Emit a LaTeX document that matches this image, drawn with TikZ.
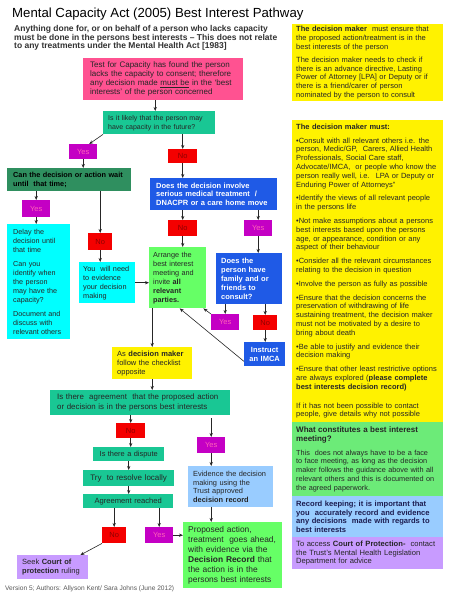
\documentclass[tikz,border=0pt]{standalone}
\usepackage{fontspec}
\setmainfont{Liberation Sans}
\usetikzlibrary{arrows.meta}

\definecolor{capink}{HTML}{FF5291}
\definecolor{tealfill}{HTML}{19C794}
\definecolor{waitgreen}{HTML}{2F8F5F}
\definecolor{yesfill}{HTML}{C400C4}
\definecolor{yestext}{HTML}{FF62B8}
\definecolor{nofill}{HTML}{F40000}
\definecolor{notext}{HTML}{8E0000}
\definecolor{askblue}{HTML}{1F5AE6}
\definecolor{delaycyan}{HTML}{00FFFF}
\definecolor{meetgreen}{HTML}{66FF66}
\definecolor{notegreen}{HTML}{6CEB78}
\definecolor{recblue}{HTML}{99CCFF}
\definecolor{courtlilac}{HTML}{C89BFF}
\definecolor{navytext}{HTML}{1C1C50}

\newcommand*{\boxfont}[2]{\fontsize{#1}{#2}\selectfont}

\begin{document}
\begin{tikzpicture}[x=1pt,y=-1pt,>={Stealth[length=4pt,width=3.2pt]},
    box/.style={rectangle,anchor=north west,inner xsep=5pt,inner ysep=1pt,align=left,text=black!85},
    yesbox/.style={rectangle,anchor=north west,inner sep=0pt,minimum width=28pt,minimum height=16pt,
      fill=yesfill,text=yestext,font=\boxfont{7.5}{8}},
    nobox/.style={yesbox,fill=nofill,text=notext},
    link/.style={->,line width=0.6pt,black!85}]

  \path[use as bounding box,fill=white] (0,0) rectangle (450,600);

  % heading
  \node[box,inner sep=0pt,text=black,font=\boxfont{13.2}{15}] (title) at (12,8) {Mental Capacity Act (2005) Best Interest Pathway};
  \node[box,inner sep=0pt,text=black!80,font=\boxfont{8.5}{8.7}\bfseries] (intro) at (14,25)
    {Anything done for, or on behalf of a person who lacks capacity\\
     must be done in the persons best interests – This does not relate\\
     to any treatments under the Mental Health Act [1983]};

  % pathway
  \node[box,fill=capink,minimum width=160pt,minimum height=42pt,text width=146pt,inner xsep=7pt,font=\boxfont{8}{9}] (capacity) at (83,58)
    {Test for Capacity has found the person\\ lacks the capacity to consent; therefore\\
     any decision made \underline{must be} in the ‘best\\ interests’ of the person concerned};
  \node[box,fill=tealfill,minimum width=112pt,minimum height=23pt,text width=102pt,font=\boxfont{7}{9}] (future) at (103,111)
    {Is it likely that the person may\\ have capacity in the future?};
  \node[yesbox,minimum height=15pt] (yes1) at (69,144) {Yes};
  \node[nobox,minimum width=29pt,minimum height=14pt] (no1) at (168,149) {No};
  \node[box,fill=waitgreen,minimum width=124pt,minimum height=23pt,text width=112pt,inner xsep=6pt,text=black,font=\boxfont{7.3}{9}\bfseries] (wait) at (7,168)
    {Can the decision or action wait\\ until~ that time;};
  \node[box,fill=askblue,minimum width=127pt,minimum height=32pt,text width=115pt,inner xsep=6pt,text=white,font=\boxfont{7.5}{8.5}\bfseries] (serious) at (150,178)
    {Does the decision involve\\ serious medical treatment~ /\\ DNACPR or a care home move};
  \node[yesbox,minimum height=17pt] (yes2) at (22,200) {Yes};
  \node[box,fill=delaycyan,minimum width=63pt,minimum height=115pt,text width=51pt,inner xsep=6pt,font=\boxfont{7.2}{9}] (delay) at (7,224)
    {Delay the\\ decision until\\ that time\\[5pt] Can you\\ identify when\\ the person\\ may have the\\ capacity?\\[5pt]
     Document and\\ discuss with\\ relevant others};
  \node[nobox,minimum width=24pt,minimum height=17pt] (no2) at (88,233) {No};
  \node[box,fill=delaycyan,minimum width=56pt,minimum height=41pt,text width=48pt,inner xsep=4pt,font=\boxfont{7.3}{9}] (needevidence) at (79,262)
    {You~ will need\\ to evidence\\ your decision\\ making};
  \node[nobox,minimum width=29pt] (no3) at (168,220) {No};
  \node[yesbox] (yes3) at (244,220) {Yes};
  \node[box,fill=meetgreen,minimum width=57pt,minimum height=61pt,text width=49pt,inner xsep=4pt,font=\boxfont{7.3}{9}] (meeting) at (149,247)
    {Arrange the\\ best interest\\ meeting and\\ invite \textbf{all}\\ \textbf{relevant}\\ \textbf{parties.}};
  \node[box,fill=askblue,minimum width=66pt,minimum height=51pt,text width=56pt,text=white,font=\boxfont{7.5}{9}\bfseries] (family) at (216,253)
    {Does the\\ person have\\ family and or\\ friends to\\ consult?};
  \node[yesbox] (yes4) at (211,314) {Yes};
  \node[nobox,minimum width=24pt,minimum height=15pt] (no4) at (253,315) {No};
  \node[box,fill=askblue,minimum width=41pt,minimum height=24pt,text width=33pt,inner xsep=4pt,align=center,text=white,font=\boxfont{7.5}{9}\bfseries] (imca) at (244,342)
    {Instruct\\ an IMCA};
  \node[box,fill=yellow,minimum width=80pt,minimum height=32pt,text width=70pt,font=\boxfont{7.5}{9}] (checklist) at (112,347)
    {As \textbf{decision maker}\\ follow the checklist\\ opposite};
  \node[box,fill=tealfill,minimum width=180pt,minimum height=25pt,text width=166pt,inner xsep=7pt,font=\boxfont{7.9}{10}] (agree) at (50,390)
    {Is there~ agreement~ that the proposed action\\ or decision is in the persons best interests};
  \node[nobox,minimum width=29pt,minimum height=15pt] (no5) at (116,423) {No};
  \node[yesbox] (yes5) at (197,437) {Yes};
  \node[box,fill=tealfill,minimum width=71pt,minimum height=14pt,text width=63pt,inner xsep=4pt,align=center,font=\boxfont{7.4}{9}] (dispute) at (93,447)
    {Is there a dispute};
  \node[box,fill=tealfill,minimum width=91pt,minimum height=16pt,text width=83pt,inner xsep=4pt,align=center,font=\boxfont{8}{9}] (resolve) at (83,470)
    {Try~ to resolve locally};
  \node[box,fill=tealfill,minimum width=90pt,minimum height=14pt,text width=82pt,inner xsep=4pt,align=center,font=\boxfont{7.6}{9}] (reached) at (83,494)
    {Agreement reached};
  \node[box,fill=recblue,minimum width=85pt,minimum height=41pt,text width=75pt,font=\boxfont{7.4}{8.7}] (record) at (188,466)
    {Evidence the decision\\ making using the\\ Trust approved\\ \textbf{decision record}};
  \node[nobox,minimum width=24pt] (no6) at (102,527) {No};
  \node[yesbox] (yes6) at (145,527) {Yes};
  \node[box,fill=meetgreen,minimum width=99pt,minimum height=66pt,text width=89pt,font=\boxfont{8.4}{10}] (ahead) at (183,522)
    {Proposed action,\\ treatment~ goes ahead,\\ with evidence via the\\ \textbf{Decision Record} that\\ the action is in the\\ persons best interests};
  \node[box,fill=courtlilac,minimum width=71pt,minimum height=24pt,text width=61pt,font=\boxfont{7.5}{8.5}] (court) at (17,555)
    {Seek \textbf{Court of}\\ \textbf{protection} ruling};
  \node[box,inner sep=0pt,text=black!65,font=\boxfont{6.6}{8}] (version) at (5,586)
    {Version 5; Authors: Allyson Kent/ Sara Johns (June 2012)};

  % checklist column
  \node[box,fill=yellow,minimum width=151pt,minimum height=77pt,text width=143pt,inner xsep=4pt,font=\boxfont{7.5}{8.8}] (ensure) at (292,24)
    {\textbf{The decision maker}~ must ensure that\\ the proposed action/treatment is in the\\ best interests of the person\\[4pt]
     The decision maker needs to check if\\ there is an advance directive, Lasting\\ Power of Attorney [LPA] or Deputy or if\\
     there is a friend/carer of person\\ nominated by the person to consult};
  \node[box,fill=yellow,minimum width=151pt,minimum height=302pt,text width=143pt,inner xsep=4pt,font=\boxfont{7.5}{8.8}] (must) at (292,120)
    {\textbf{The decision maker must:}\\[5pt]
     •Consult with all relevant others i.e. the\\ person, Medic/GP,~ Carers, Allied Health\\ Professionals, Social Care staff,\\
     Advocate/IMCA,~ or people who know the\\ person really well, i.e.~ LPA or Deputy or\\ Enduring Power of Attorneys”\\[5pt]
     •Identify the views of all relevant people\\ in the persons life\\[5pt]
     •Not make assumptions about a persons\\ best interests based upon the persons\\ age, or appearance, condition or any\\ aspect of their behaviour\\[5pt]
     •Consider all the relevant circumstances\\ relating to the decision in question\\[5pt]
     •Involve the person as fully as possible\\[5pt]
     •Ensure that the decision concerns the\\ preservation of withdrawing of life\\ sustaining treatment, the decision maker\\
     must not be motivated by a desire to\\ bring about death\\[5pt]
     •Be able to justify and evidence their\\ decision making\\[5pt]
     •Ensure that other least restrictive options\\ are always explored (\textbf{please complete}\\ \textbf{best interests decision record)}\\[10pt]
     If it has not been possible to contact\\ people, give details why not possible};
  \node[box,fill=notegreen,minimum width=151pt,minimum height=74pt,text width=143pt,inner xsep=4pt,font=\boxfont{7.3}{8.8}] (constitutes) at (292,422)
    {{\boxfont{8}{8.8}\textbf{What constitutes a best interest}\\ \textbf{meeting?}}\\[5pt]
     This~ does not always have to be a face\\ to face meeting, as long as the decision\\ maker follows the guidance above with all\\
     relevant others and this is documented on\\ the agreed paperwork.};
  \node[box,fill=recblue,minimum width=151pt,minimum height=41pt,text width=143pt,inner xsep=4pt,text=navytext,font=\boxfont{7.6}{8.7}\bfseries] (keeping) at (292,496)
    {Record keeping; it is important that\\ you~ accurately record and evidence\\ any decisions~ made with regards to\\ best interests};
  \node[box,fill=courtlilac,minimum width=151pt,minimum height=32pt,text width=143pt,inner xsep=4pt,font=\boxfont{7.6}{8.7}] (access) at (292,537)
    {To access \textbf{Court of Protection-}~ contact\\ the Trust’s Mental Health Legislation\\ Department for advice};

  % connectors
  \draw[link] ([xshift=-8pt]capacity.south) -- ([xshift=-4pt]future.north);
  \draw[link] (future.south west) -- ([xshift=6pt]yes1.north);
  \draw[link] (future.south -| no1) -- (no1);
  \draw[link] (yes1) -- (yes1 |- wait.north);
  \draw[link] (no1) -- (no1 |- serious.north);
  \draw[link] (wait.south -| yes2) -- (yes2);
  \draw[link] (yes2) -- (yes2 |- delay.north);
  \draw[link] (wait.south -| no2) -- (no2);
  \draw[link] (no2) -- (no2 |- needevidence.north);
  \draw[link] (needevidence) -- (needevidence -| meeting.west);
  \draw[link] (serious.south -| no3) -- (no3);
  \draw[link] (no3) -- (no3 |- meeting.north);
  \draw[link] (serious.south -| yes3) -- (yes3);
  \draw[link] (yes3) -- (yes3 |- family.north);
  \draw[link] (family.south -| yes4) -- (yes4);
  \draw[link] (yes4.north west) -- ([xshift=-3pt]meeting.south east);
  \draw[link] (family.south -| no4) -- (no4);
  \draw[link] (no4) -- (no4 |- imca.north);
  \draw[link] ([yshift=5pt]imca.south west) -- ([xshift=2pt]meeting.south);
  \draw[link] (meeting.south -| checklist) -- (checklist);
  \draw[link] (checklist) -- (checklist |- agree.north);
  \draw[link] (agree.south -| no5) -- (no5);
  \draw[link] (no5) -- (no5 |- dispute.north);
  \draw[link] (dispute) -- (dispute |- resolve.north);
  \draw[link] (resolve) -- (resolve |- reached.north);
  \draw[link] ([yshift=-3pt]agree.south -| yes5) -- (yes5);
  \draw[link] (yes5) -- (yes5 |- record.north);
  \draw[link] (yes5 |- record.south) -- (yes5 |- ahead.north);
  \draw[link] (reached.south -| no6) -- (no6);
  \draw[link] (reached.south -| yes6) -- (yes6);
  \draw[link] (yes6) -- (yes6 -| ahead.west);
  \draw[link] (no6.south west) -- ([xshift=-8pt]court.north east);
\end{tikzpicture}
\end{document}
